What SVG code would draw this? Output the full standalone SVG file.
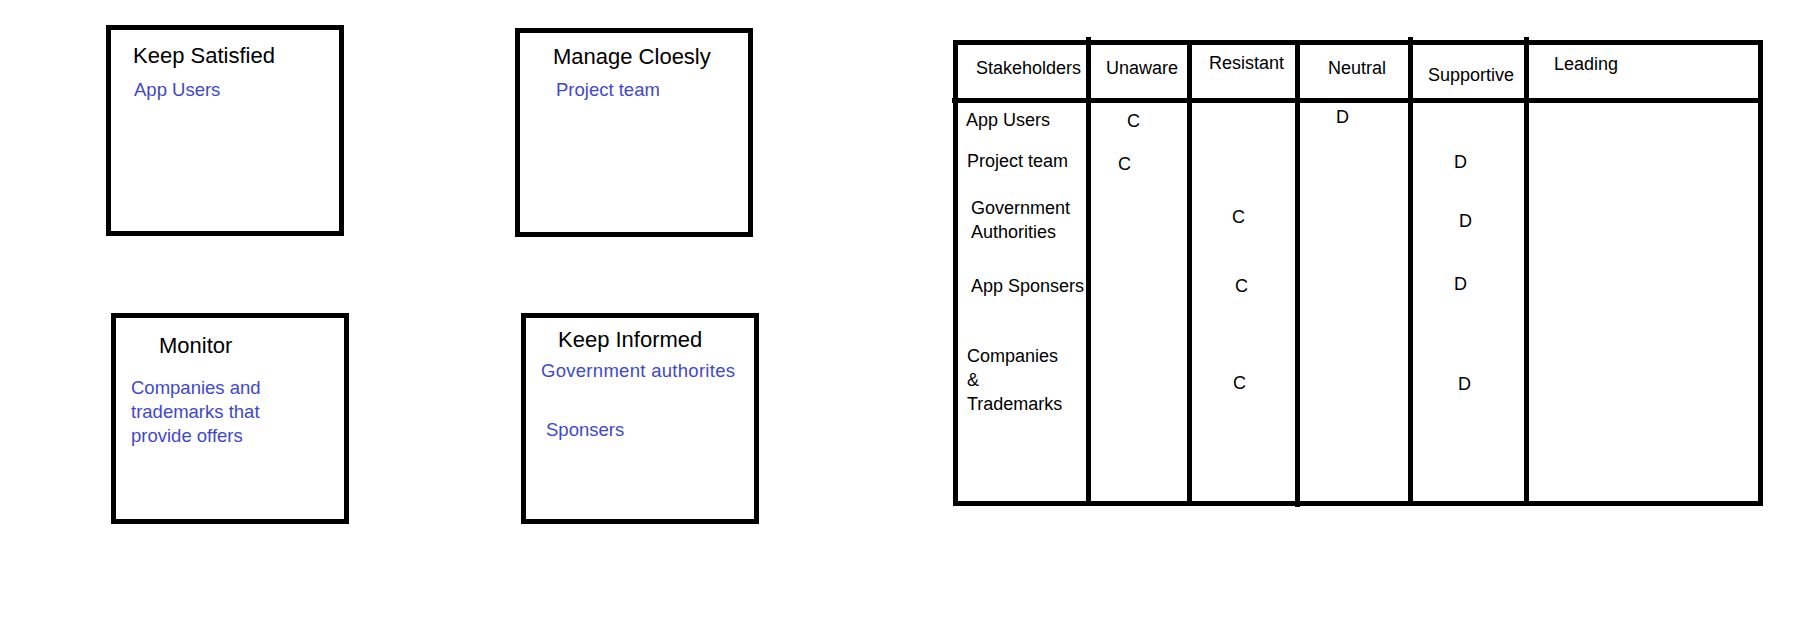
<svg xmlns="http://www.w3.org/2000/svg" width="1799" height="620" viewBox="0 0 1799 620">
<style>
.box{fill:#fff;stroke:#000;stroke-width:5}
.ln{stroke:#000;stroke-width:5;fill:none}
.t{font-family:"Liberation Sans",Arial,sans-serif;font-size:22px;fill:#000}
.b{font-family:"Liberation Sans",Arial,sans-serif;font-size:18.5px;fill:#3F48CC}
.c{font-family:"Liberation Sans",Arial,sans-serif;font-size:18px;fill:#000}
</style>
<rect x="0" y="0" width="1799" height="620" fill="#fff"/>
<g id="keep-satisfied">
<rect class="box" x="108.5" y="27.5" width="233" height="206"/>
<text class="t" x="133" y="63">Keep Satisfied</text>
<text class="b" x="134" y="96">App Users</text>
</g>
<g id="manage-closely">
<rect class="box" x="517.5" y="30.5" width="233" height="204"/>
<text class="t" x="553" y="64">Manage Cloesly</text>
<text class="b" x="556" y="96">Project team</text>
</g>
<g id="monitor">
<rect class="box" x="113.5" y="315.5" width="233" height="206"/>
<text class="t" x="159" y="353">Monitor</text>
<text class="b" x="131" y="394">Companies and</text>
<text class="b" x="131" y="418">trademarks that</text>
<text class="b" x="131" y="442">provide offers</text>
</g>
<g id="keep-informed">
<rect class="box" x="523.5" y="315.5" width="233" height="206"/>
<text class="t" x="558" y="347">Keep Informed</text>
<text class="b" x="541" y="377" textLength="194">Government authorites</text>
<text class="b" x="546" y="436">Sponsers</text>
</g>
<g id="table">
<rect class="box" x="955.5" y="42.5" width="805" height="461"/>
<line class="ln" x1="952" y1="100.5" x2="1760.5" y2="100.5"/>
<line class="ln" x1="1088.5" y1="37" x2="1088.5" y2="503.5"/>
<line class="ln" x1="1189.5" y1="42.5" x2="1189.5" y2="503.5"/>
<line class="ln" x1="1297.5" y1="42.5" x2="1297.5" y2="507"/>
<line class="ln" x1="1410.5" y1="37" x2="1410.5" y2="503.5"/>
<line class="ln" x1="1526.5" y1="37" x2="1526.5" y2="503.5"/>
<text class="c" x="976" y="74">Stakeholders</text>
<text class="c" x="1106" y="74">Unaware</text>
<text class="c" x="1209" y="69">Resistant</text>
<text class="c" x="1328" y="74">Neutral</text>
<text class="c" x="1428" y="81">Supportive</text>
<text class="c" x="1554" y="70">Leading</text>
<text class="c" x="966" y="126">App Users</text>
<text class="c" x="967" y="167">Project team</text>
<text class="c" x="971" y="214">Government</text>
<text class="c" x="971" y="238">Authorities</text>
<text class="c" x="971" y="292">App Sponsers</text>
<text class="c" x="967" y="362">Companies</text>
<text class="c" x="967" y="386">&amp;</text>
<text class="c" x="967" y="410">Trademarks</text>
<text class="c" x="1127" y="127">C</text>
<text class="c" x="1336" y="123">D</text>
<text class="c" x="1118" y="170">C</text>
<text class="c" x="1454" y="168">D</text>
<text class="c" x="1232" y="223">C</text>
<text class="c" x="1459" y="227">D</text>
<text class="c" x="1235" y="292">C</text>
<text class="c" x="1454" y="290">D</text>
<text class="c" x="1233" y="389">C</text>
<text class="c" x="1458" y="390">D</text>
</g>
<g id="connectors"/>
</svg>
